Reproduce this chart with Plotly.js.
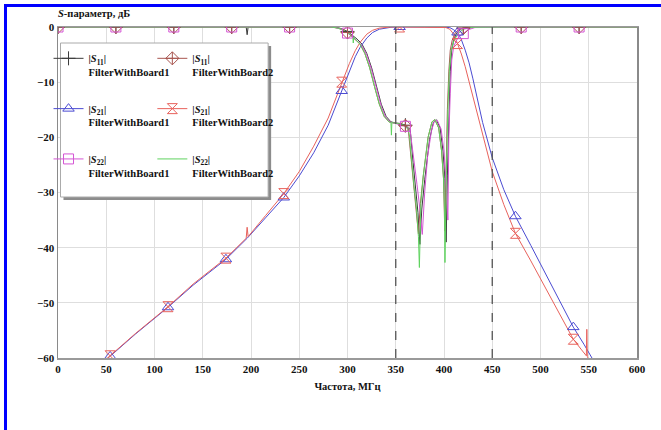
<!DOCTYPE html>
<html>
<head>
<meta charset="utf-8">
<script src="https://cdn.plot.ly/plotly-3.0.1.min.js"></script>
<style>
  html, body { margin: 0; padding: 0; background: #fff; }
  #wrap { position: relative; width: 661px; height: 430px; }
  #chart { width: 661px; height: 430px; }
  #frame { position: absolute; left: 4px; top: 4px; width: 657px; height: 426px;
           border-top: 3px solid #0000ff; border-left: 3px solid #0000ff;
           box-sizing: border-box; pointer-events: none; }
</style>
</head>
<body>
<div id="wrap"><div id="chart"></div><div id="frame"></div></div>
<script>
// ---------- data (frequency in MHz, S-parameter in dB) ----------
const freqS11b1 = [0, 60, 120, 180, 195, 196, 197, 240, 285, 292, 297, 300, 305, 310, 315, 320, 325, 330, 335, 340, 345, 350, 355, 360, 365, 368, 371, 373, 375, 377, 380, 385, 389, 392, 396, 399, 401, 402.2, 403.5, 405, 406.5, 408, 410, 413, 417, 420, 425, 432, 480, 540, 600];
const s11b1 = [0, 0, 0, 0, 0, -1.4, 0, 0, 0, -0.2, -0.5, -0.8, -1.5, -2.2, -3.1, -4.8, -7.4, -10.8, -14, -16.2, -17.2, -17.4, -17.5, -17.8, -18.6, -24.6, -29.5, -33.6, -39.4, -33, -27.7, -20.4, -17.3, -16.8, -18.3, -22.5, -27.5, -39, -27, -15, -8, -4.2, -2.4, -1.1, -0.4, -0.2, -0.05, 0, 0, 0, 0];

const freqS11b2 = [0, 60, 120, 180, 240, 283, 290, 295, 300, 303, 308, 313, 318, 323, 328, 333, 338, 343, 348, 353, 358, 360, 363, 366, 369, 371.5, 373.5, 375.5, 378.5, 383.5, 387.5, 390.5, 394.5, 397.5, 399.5, 400.8, 402, 403.5, 405, 406.5, 408.5, 411.5, 415.5, 420, 425, 430, 480, 540, 600];
const s11b2 = [0, 0, 0, 0, 0, 0, -0.2, -0.5, -1.0, -1.5, -2.2, -3.1, -4.8, -7.4, -10.8, -14, -16.2, -17.2, -17.4, -17.5, -17.7, -17.9, -18.6, -24, -29, -33, -37.5, -32, -27, -20, -17.2, -16.8, -18.3, -22.5, -27.5, -37, -26, -15, -8, -4.2, -2.4, -1.1, -0.4, -0.2, -0.05, 0, 0, 0, 0];

const freqS21b1 = [50, 54, 80, 114, 140, 174, 196, 215, 234, 250, 265, 280, 294, 302, 308, 313, 320, 326, 333, 345, 354, 380, 400, 406, 410, 414, 418, 422, 426, 430, 440, 450, 462, 474, 490, 505, 520, 534, 545, 554];
const s21b1 = [-60.3, -59.7, -55.7, -50.8, -46.8, -42.1, -38.3, -34.6, -30.9, -27, -22.8, -17.8, -11.6, -8, -5.4, -3.7, -2, -1, -0.4, -0.05, 0, 0, 0, -0.1, -0.5, -1, -2.3, -4.2, -6.5, -9.4, -17.3, -23.7, -29.5, -34.3, -39.6, -44.6, -49.6, -54.4, -57.5, -60.2];

const freqS21b2 = [50, 54, 80, 114, 140, 174, 195, 196, 197, 215, 234, 250, 265, 280, 294, 302, 308, 313, 320, 326, 333, 345, 354, 395, 402, 406, 410, 414, 418, 422, 426, 440, 450, 462, 474, 490, 505, 520, 534, 542, 547.5, 548, 548.5, 550];
const s21b2 = [-60.2, -59.6, -55.6, -50.7, -46.6, -41.9, -38.3, -36.3, -38.0, -34.2, -30.2, -26.2, -21.6, -16.5, -10, -6.6, -4.3, -2.8, -1.3, -0.6, -0.2, 0, 0, 0, -0.1, -0.4, -1.3, -3, -4.9, -7.2, -9.9, -19.4, -26.2, -32.2, -37.4, -42.4, -47.2, -52, -56.6, -58.4, -59.6, -54.8, -59.7, -60.3];

const freqS22b1 = [0, 60, 120, 180, 240, 285, 292, 297, 300, 305, 310, 315, 320, 325, 330, 335, 340, 345, 350, 355, 360, 365, 369, 372, 375, 377.5, 380, 383, 387, 390, 393, 397, 400, 402, 403, 404, 405, 406.5, 408, 410, 413, 416, 420, 425, 432, 480, 540, 600];
const s22b1 = [0, 0, 0, 0, 0, 0, -0.3, -0.7, -1.1, -1.8, -2.5, -3.4, -5.1, -7.8, -11.2, -14.4, -16.5, -17.3, -17.5, -17.7, -18.0, -18.9, -24, -28.5, -33, -37.6, -30, -23.5, -18.8, -17.1, -16.9, -18.5, -22.5, -27, -31, -35, -20, -12, -6, -3.6, -2.4, -1.7, -1.2, -0.5, -0.1, 0, 0, 0];

const freqS22b2 = [0, 60, 120, 180, 240, 283, 290, 295, 300, 303, 305.5, 306, 306.5, 308, 313, 318, 323, 328, 333, 338, 343, 345, 345.5, 346, 348, 353, 358, 363, 364.5, 365, 365.5, 369, 371.5, 373.5, 374.5, 375, 376, 378.5, 383.5, 387.5, 390.5, 394.5, 397.5, 399.5, 400.5, 401, 401.5, 402.5, 404, 405.5, 407.5, 410.5, 415, 420, 425, 430, 480, 540, 600];
const s22b2 = [0, 0, 0, 0, 0, 0, -0.2, -0.5, -1.0, -1.5, -1.8, -2.9, -1.9, -2.2, -3.1, -4.8, -7.4, -10.8, -14, -16.2, -17.2, -17.3, -19.6, -17.3, -17.4, -17.5, -17.7, -18.6, -20, -21.5, -22.5, -29, -33, -38, -43.6, -38, -32, -27, -20, -17.2, -16.8, -18.3, -22.5, -27.5, -33, -42.7, -33, -26, -15, -8, -4.2, -2.4, -1.1, -0.4, -0.2, -0.05, 0, 0, 0];

// marker frequencies
const markerFreqsRefl = [0, 60, 120, 180, 240, 300, 360, 420, 480, 540];
const markerFreqsTrans = [54, 114, 174, 234, 294, 354, 414, 474, 534];

// band edges (dashed lines)
const bandEdges = [350, 450];

// labels
const seriesNames = [
  '|<i>S</i><sub>11</sub>|<br>FilterWithBoard1',
  '|<i>S</i><sub>11</sub>|<br>FilterWithBoard2',
  '|<i>S</i><sub>21</sub>|<br>FilterWithBoard1',
  '|<i>S</i><sub>21</sub>|<br>FilterWithBoard2',
  '|<i>S</i><sub>22</sub>|<br>FilterWithBoard1',
  '|<i>S</i><sub>22</sub>|<br>FilterWithBoard2'
];
const xTitle = 'Частота, МГц';
const yTitle = '<i>S</i>-параметр, дБ';

// ---------- build ----------
const FONT = 'Liberation Serif, Times New Roman, serif';
const series = [
  {x: freqS11b1, y: s11b1, color: '#3a3a3a', sym: 'cross-thin-open', mk: markerFreqsRefl, lg: 'legend'},
  {x: freqS11b2, y: s11b2, color: '#a8554f', sym: 'diamond-cross-open', mk: markerFreqsRefl, lg: 'legend2'},
  {x: freqS21b1, y: s21b1, color: '#4b4bd2', sym: 'triangle-up-open', mk: markerFreqsTrans, lg: 'legend'},
  {x: freqS21b2, y: s21b2, color: '#e8625c', sym: 'hourglass-open', mk: markerFreqsTrans, lg: 'legend2'},
  {x: freqS22b1, y: s22b1, color: '#d455d4', sym: 'square-open', mk: markerFreqsRefl, lg: 'legend'},
  {x: freqS22b2, y: s22b2, color: '#5fd35f', sym: null, mk: null, lg: 'legend2'}
];

const traces = [];
series.forEach((s, i) => {
  traces.push({
    x: s.x, y: s.y, type: 'scatter', mode: 'lines',
    line: {color: s.color, width: 1},
    name: seriesNames[i], legend: s.lg, legendgroup: 'g' + i,
    showlegend: !s.sym, hoverinfo: 'skip'
  });
});
series.forEach((s, i) => {
  if (!s.sym) return;
  const mx = [], my = [];
  s.mk.forEach(f => {
    const idx = s.x.indexOf(f);
    if (idx >= 0) { mx.push(f, null); my.push(s.y[idx], null); }
  });
  traces.push({
    x: mx, y: my, type: 'scatter', mode: 'lines+markers', connectgaps: false,
    line: {color: s.color, width: 1},
    marker: {symbol: s.sym, size: 10, color: s.color, line: {color: s.color, width: 1}},
    name: seriesNames[i], legend: s.lg, legendgroup: 'g' + i,
    showlegend: true, hoverinfo: 'skip'
  });
});
traces.forEach(t => { t.legendrank = parseInt(t.legendgroup.slice(1)); });

const W = 661, H = 430, ML = 57.5, MR = 23.5, MT = 27, MB = 72;
const pw = W - ML - MR, ph = H - MT - MB;
const px2x = p => (p - ML) / pw;
const py2y = p => (H - MB - p) / ph;

const shapes = bandEdges.map(f => ({
  type: 'line', xref: 'x', yref: 'paper', x0: f, x1: f, y0: 0, y1: 1,
  line: {color: '#555', width: 1.3, dash: 'dash'}, layer: 'above'
}));
// legend shadow and box
shapes.push({type: 'rect', xref: 'paper', yref: 'paper',
  x0: px2x(63), x1: px2x(271), y0: py2y(200), y1: py2y(46),
  fillcolor: '#8c8c8c', line: {width: 0}, layer: 'above'});
shapes.push({type: 'rect', xref: 'paper', yref: 'paper',
  x0: px2x(60), x1: px2x(268), y0: py2y(197), y1: py2y(43),
  fillcolor: '#fff', line: {color: '#aaa', width: 1}, layer: 'above'});

const tickFont = {family: FONT, size: 11, color: '#111', weight: 700};
const legendCommon = {
  bgcolor: 'rgba(0,0,0,0)', borderwidth: 0, xanchor: 'left', yanchor: 'top',
  font: {family: FONT, size: 10.5, color: '#111', weight: 700},
  tracegroupgap: 20, valign: 'top', itemwidth: 30, traceorder: 'grouped'
};

const layout = {
  width: W, height: H,
  margin: {l: ML, r: MR, t: MT, b: MB, pad: 0},
  paper_bgcolor: '#fff', plot_bgcolor: '#fff',
  showlegend: true,
  xaxis: {
    range: [0, 600], tick0: 0, dtick: 50, showgrid: true, gridcolor: '#dedede', gridwidth: 1,
    zeroline: false, showline: true, linecolor: '#9a9a9a', linewidth: 1.5, mirror: true,
    ticks: '', tickfont: tickFont, automargin: false,
    title: {text: xTitle, font: {family: FONT, size: 10.5, color: '#111', weight: 700}, standoff: 9}
  },
  yaxis: {
    range: [-60, 0], tick0: 0, dtick: 10, showgrid: true, gridcolor: '#dedede', gridwidth: 1,
    zeroline: false, showline: true, linecolor: '#8a8a8a', linewidth: 1.5, mirror: true,
    ticks: '', tickfont: tickFont, automargin: false
  },
  legend: Object.assign({}, legendCommon, {x: px2x(48), y: py2y(45)}),
  legend2: Object.assign({}, legendCommon, {x: px2x(152), y: py2y(45)}),
  shapes: shapes,
  annotations: [{
    text: yTitle, xref: 'paper', yref: 'paper', x: px2x(55), y: py2y(14),
    xanchor: 'left', yanchor: 'middle', showarrow: false,
    font: {family: FONT, size: 10.5, color: '#111', weight: 700}
  }]
};

Plotly.newPlot('chart', traces, layout, {staticPlot: true, displayModeBar: false});
</script>
</body>
</html>
